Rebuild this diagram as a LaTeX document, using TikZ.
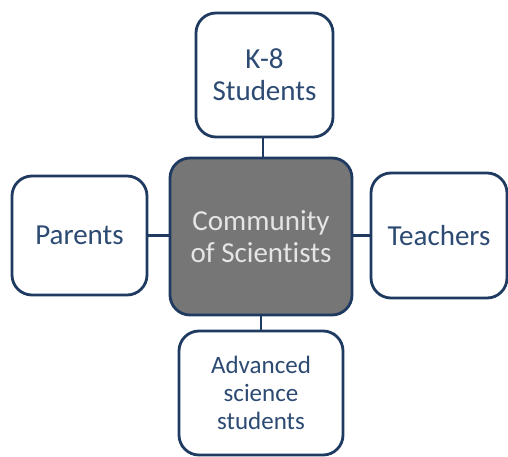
\documentclass[tikz,border=0pt]{standalone}
\usepackage{fontspec}
\setmainfont{Carlito}[Ligatures=NoCommon]
\definecolor{edge}{HTML}{1F3A60}
\definecolor{txt}{HTML}{2C4A72}
\definecolor{core}{HTML}{767676}
\begin{document}
\begin{tikzpicture}[x=1pt,y=1pt,
  box/.style={draw=edge, line width=2.8pt, rounded corners=20pt, fill=white, text=txt, align=center, inner sep=0pt},
  big/.style={font=\fontsize{29}{32}\selectfont},
  small/.style={font=\fontsize{25}{28}\selectfont},
  link/.style={draw=edge, line width=2.8pt}]
\useasboundingbox (0,0) rectangle (508,-457);
\node[box, fill=core, text=white!90!black, big, minimum width=182pt, minimum height=157pt] (core) at (261,-236.5) {Community\\of Scientists};
\node[box, big, minimum width=137pt, minimum height=124pt] (top) at (264.5,-75) {K-8\\Students};
\node[box, big, minimum width=135pt, minimum height=119pt] (left) at (79.5,-235.5) {Parents};
\node[box, big, minimum width=136pt, minimum height=125pt] (right) at (439,-235.5) {Teachers};
\node[box, small, minimum width=164pt, minimum height=124pt] (bottom) at (261,-393) {Advanced\\science\\students};
\draw[link] (top.south -| 263,0) -- (core.north -| 263,0);
\draw[link] (left.east) -- (core.west |- left.east);
\draw[link] (right.west) -- (core.east |- right.west);
\draw[link] (core.south) -- (bottom.north);
\end{tikzpicture}
\end{document}
